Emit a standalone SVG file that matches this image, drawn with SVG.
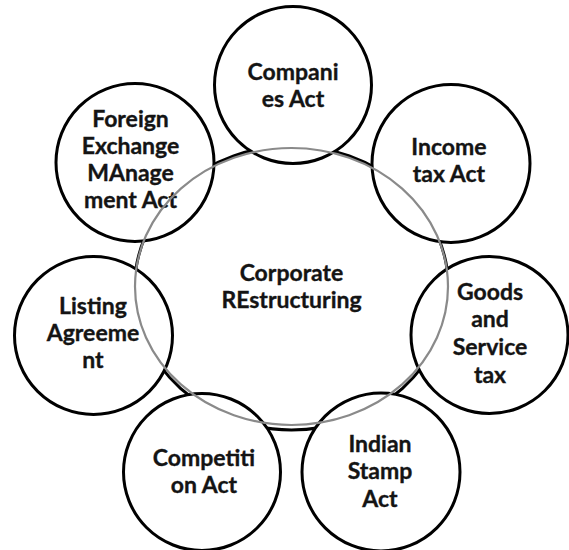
<svg xmlns="http://www.w3.org/2000/svg" width="569" height="550" viewBox="0 0 569 550">
<style>
.bg{fill:#ffffff}
.center{fill:#ffffff;stroke:#000000;stroke-width:3}
.node{fill:#ffffff;stroke:#000000;stroke-width:3}
.ring{fill:none;stroke:#8a8a8a;stroke-width:2.2}
text{font-family:Lato,"Open Sans","Liberation Sans",sans-serif;font-weight:bold;font-size:23px;fill:#141414;stroke:#141414;stroke-width:0.35;text-anchor:middle}
</style>
<rect class="bg" x="0" y="0" width="569" height="550"/>
<g id="node-corporate-restructuring">
<ellipse class="center" cx="291.5" cy="288" rx="157" ry="142"/>
<text x="291.5" y="281">Corporate</text>
<text x="291.5" y="307.5">REstructuring</text>
</g>
<g id="node-companies-act">
<circle class="node" cx="293" cy="85" r="78.5"/>
<text x="293" y="80">Compani</text>
<text x="293" y="107">es Act</text>
</g>
<g id="node-income-tax-act">
<circle class="node" cx="451" cy="163.5" r="79"/>
<text x="449" y="155">Income</text>
<text x="449" y="182">tax Act</text>
</g>
<g id="node-goods-and-service-tax">
<circle class="node" cx="489.5" cy="335" r="78.5"/>
<text x="490" y="299.5">Goods</text>
<text x="490" y="327">and</text>
<text x="490" y="355">Service</text>
<text x="490" y="382.5">tax</text>
</g>
<g id="node-indian-stamp-act">
<circle class="node" cx="381" cy="472" r="79"/>
<text x="380" y="452">Indian</text>
<text x="380" y="479">Stamp</text>
<text x="380" y="506.5">Act</text>
</g>
<g id="node-competition-act">
<circle class="node" cx="202" cy="472" r="78.5"/>
<text x="204" y="466">Competiti</text>
<text x="204" y="493">on Act</text>
</g>
<g id="node-listing-agreement">
<circle class="node" cx="93.5" cy="335.5" r="79"/>
<text x="93" y="313.5">Listing</text>
<text x="93" y="341">Agreeme</text>
<text x="93" y="368">nt</text>
</g>
<g id="node-foreign-exchange-management-act">
<circle class="node" cx="135" cy="162.5" r="79"/>
<text x="130.5" y="127">Foreign</text>
<text x="130.5" y="154">Exchange</text>
<text x="130.5" y="181">MAnage</text>
<text x="130.5" y="208">ment Act</text>
</g>
<g id="connectors">
<ellipse class="ring" cx="291.5" cy="286.5" rx="156.5" ry="138.5"/>
</g>
</svg>
